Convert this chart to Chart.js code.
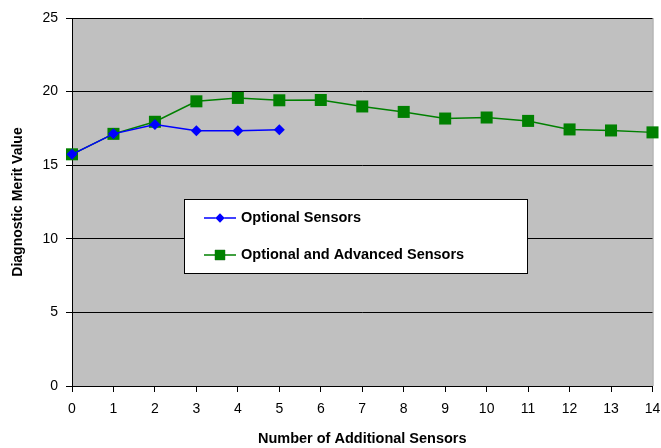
<!DOCTYPE html>
<html>
<head>
<meta charset="utf-8">
<script src="https://cdn.jsdelivr.net/npm/chart.js@4.4.0/dist/chart.umd.min.js"></script>
<style>
  html, body { margin: 0; padding: 0; background: #fff; }
  #wrap { width: 661px; height: 448px; }
</style>
</head>
<body>
<div id="wrap"><canvas id="canvas" width="661" height="448"></canvas></div>
<script>
// values
var sensorCounts = [0, 1, 2, 3, 4, 5, 6, 7, 8, 9, 10, 11, 12, 13, 14];
var optionalValues = [15.74, 17.13, 17.77, 17.34, 17.34, 17.41];
var advancedValues = [15.74, 17.13, 17.95, 19.34, 19.57, 19.41, 19.43, 18.99, 18.62, 18.17, 18.24, 18.01, 17.43, 17.36, 17.23];
var seriesNames = ['Optional Sensors', 'Optional and Advanced Sensors'];
var yTicks = [0, 5, 10, 15, 20, 25];

function toPoints(vals) {
    return vals.map(function (v, i) { return { x: sensorCounts[i], y: v }; });
}

var font = "'Liberation Sans', Arial, sans-serif";

// gray plot area + right border
var plotBg = {
    id: 'plotBg',
    beforeDraw: function (chart) {
        var a = chart.chartArea, ctx = chart.ctx;
        ctx.save();
        ctx.fillStyle = '#c0c0c0';
        ctx.fillRect(a.left, a.top, a.right - a.left, a.bottom - a.top);
        ctx.strokeStyle = '#909090';
        ctx.lineWidth = 1;
        ctx.beginPath();
        ctx.moveTo(a.right + 0.5, a.top);
        ctx.lineTo(a.right + 0.5, a.bottom);
        ctx.stroke();
        ctx.restore();
    }
};

// legend box inside the plot
var boxLegend = {
    id: 'boxLegend',
    afterDraw: function (chart) {
        var a = chart.chartArea, ctx = chart.ctx;
        var bx = a.left + 112, by = a.top + 181, bw = 343, bh = 74;
        ctx.save();
        ctx.fillStyle = '#fff';
        ctx.fillRect(bx, by, bw, bh);
        ctx.strokeStyle = '#000';
        ctx.lineWidth = 1;
        ctx.strokeRect(bx + 0.5, by + 0.5, bw, bh);
        chart.data.datasets.forEach(function (ds, i) {
            var y = by + 19 + i * 37;
            ctx.strokeStyle = ds.borderColor;
            ctx.lineWidth = 1.5;
            ctx.beginPath();
            ctx.moveTo(bx + 20, y);
            ctx.lineTo(bx + 52, y);
            ctx.stroke();
            Chart.helpers.drawPoint(ctx, {
                pointStyle: ds.pointStyle,
                radius: ds.pointRadius * 0.85,
                borderWidth: 0
            }, bx + 36, y);
            ctx.fillStyle = ds.pointBackgroundColor;
            ctx.fill();
            ctx.fillStyle = '#000';
            ctx.font = 'bold 14.5px ' + font;
            ctx.textBaseline = 'middle';
            ctx.textAlign = 'left';
            ctx.fillText(ds.label, bx + 57, y);
        });
        ctx.restore();
    }
};

window.onload = function () {
    var ctx = document.getElementById('canvas').getContext('2d');
    window.myLine = new Chart(ctx, {
        type: 'line',
        data: {
            datasets: [{
                label: seriesNames[0],
                data: toPoints(optionalValues),
                borderColor: '#0000ff',
                backgroundColor: '#0000ff',
                pointBackgroundColor: '#0000ff',
                pointBorderColor: '#0000ff',
                pointStyle: 'rectRot',
                pointRadius: 5.5,
                pointBorderWidth: 0,
                borderWidth: 1.5,
                tension: 0,
                clip: false
            }, {
                label: seriesNames[1],
                data: toPoints(advancedValues),
                borderColor: '#008000',
                backgroundColor: '#008000',
                pointBackgroundColor: '#008000',
                pointBorderColor: '#008000',
                pointStyle: 'rect',
                pointRadius: 8.5,
                pointBorderWidth: 0,
                borderWidth: 1.5,
                tension: 0,
                clip: false
            }]
        },
        options: {
            responsive: false,
            animation: false,
            layout: { padding: { left: 0, right: 8, top: 18, bottom: 0 } },
            plugins: {
                legend: { display: false },
                tooltip: { enabled: false }
            },
            scales: {
                x: {
                    type: 'linear',
                    min: 0,
                    max: 14,
                    afterFit: function (s) {
                        s.height = 62;
                        s.paddingLeft = 0;
                        s.paddingRight = 0;
                    },
                    ticks: {
                        stepSize: 1,
                        color: '#000',
                        padding: 9,
                        font: { family: font, size: 14 }
                    },
                    grid: { drawOnChartArea: false, color: '#000', tickLength: 6 },
                    border: { color: '#000', width: 1 },
                    title: {
                        display: true,
                        text: 'Number of Additional Sensors',
                        color: '#000',
                        padding: { top: 8, bottom: 0 },
                        font: { family: font, size: 14.5, weight: 'bold' }
                    }
                },
                y: {
                    min: 0,
                    max: 25,
                    afterFit: function (s) { s.width = 72; },
                    afterBuildTicks: function (s) {
                        s.ticks = yTicks.map(function (v) { return { value: v }; });
                    },
                    ticks: {
                        color: '#000',
                        padding: 8,
                        font: { family: font, size: 14 }
                    },
                    grid: { color: '#000', tickLength: 6, lineWidth: 1 },
                    border: { color: '#000', width: 1 },
                    title: {
                        display: true,
                        text: 'Diagnostic Merit Value',
                        color: '#000',
                        padding: { top: 10, bottom: 0 },
                        font: { family: font, size: 14, weight: 'bold' }
                    }
                }
            }
        },
        plugins: [plotBg, boxLegend]
    });
};
</script>
</body>
</html>
